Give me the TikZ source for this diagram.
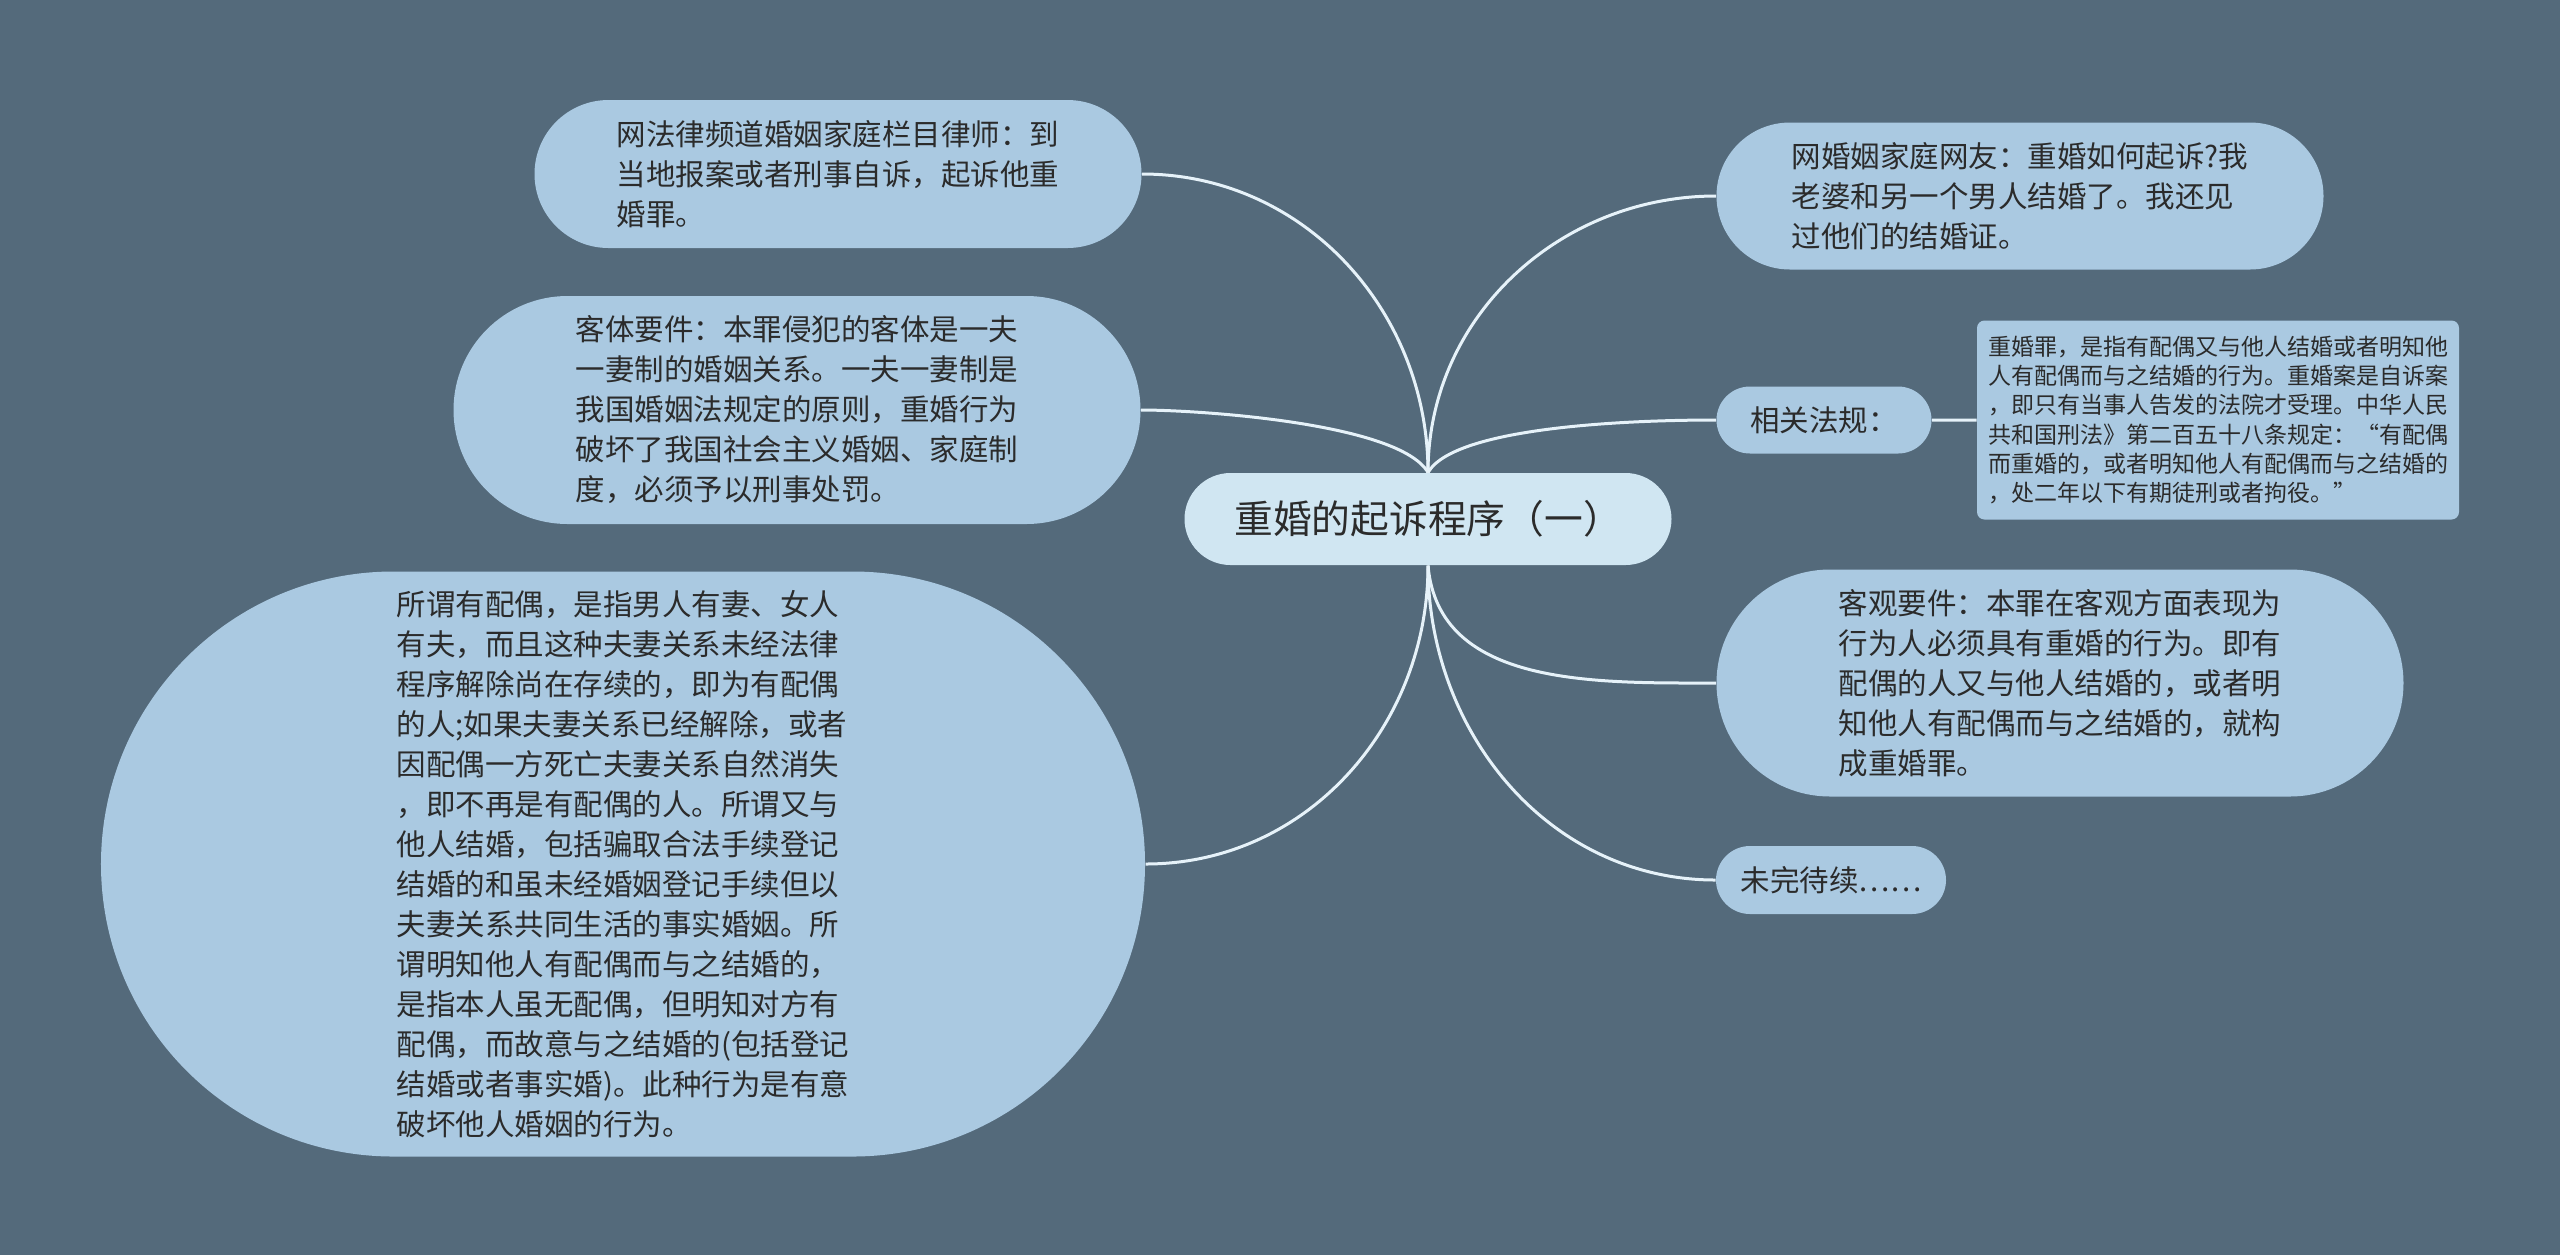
\documentclass[tikz,border=0pt]{standalone}
\usepackage{fontspec}
\setmainfont{Noto Sans CJK SC}
\usetikzlibrary{shapes.misc}

\definecolor{bg}{HTML}{546A7B}
\definecolor{leaf}{HTML}{AAC9E1}
\definecolor{rootc}{HTML}{D0E6F2}
\definecolor{wire}{HTML}{E6F2F9}
\definecolor{ink}{HTML}{2B2B2B}

\begin{document}
\begin{tikzpicture}[x=0.4pt,y=-0.4pt,
  box/.style={rounded rectangle,fill=leaf,text=ink,align=left,inner sep=0pt,
    font=\fontsize{11.8}{16}\selectfont},
  note/.style={rectangle,rounded corners=3pt,fill=leaf,text=ink,align=left,inner sep=3pt,
    font=\fontsize{9.2}{11.75}\selectfont},
  edge/.style={wire,line width=1.2pt}]
\fill [bg] (0,0) rectangle (2560,1255);
\useasboundingbox (0,0) rectangle (2560,1255);

\node [box,fill=rootc,minimum width=194.8pt,minimum height=36.8pt,
  font=\fontsize{15.5}{18}\selectfont] (root) at (1428,519) {重婚的起诉程序（一）};

% left side
\node [box,minimum width=242.8pt,minimum height=59.2pt] (lawyer) at (838,174)
  {网法律频道婚姻家庭栏目律师：到\\当地报案或者刑事自诉，起诉他重\\婚罪。};
\node [box,minimum width=274.8pt,minimum height=91.2pt] (object) at (797,410)
  {客体要件：本罪侵犯的客体是一夫\\一妻制的婚姻关系。一夫一妻制是\\我国婚姻法规定的原则，重婚行为\\破坏了我国社会主义婚姻、家庭制\\度，必须予以刑事处罚。};
\node [box,minimum width=417.6pt,minimum height=234pt] (spouse) at (623,864)
  {所谓有配偶，是指男人有妻、女人\\有夫，而且这种夫妻关系未经法律\\程序解除尚在存续的，即为有配偶\\的人;如果夫妻关系已经解除，或者\\因配偶一方死亡夫妻关系自然消失\\，即不再是有配偶的人。所谓又与\\他人结婚，包括骗取合法手续登记\\结婚的和虽未经婚姻登记手续但以\\夫妻关系共同生活的事实婚姻。所\\谓明知他人有配偶而与之结婚的，\\是指本人虽无配偶，但明知对方有\\配偶，而故意与之结婚的(包括登记\\结婚或者事实婚)。此种行为是有意\\破坏他人婚姻的行为。};

% right side
\node [box,minimum width=242.8pt,minimum height=58.8pt] (netizen) at (2020,196)
  {网婚姻家庭网友：重婚如何起诉?我\\老婆和另一个男人结婚了。我还见\\过他们的结婚证。};
\node [box,minimum width=86pt,minimum height=26.8pt] (law) at (1824,420) {相关法规：};
\node [note,minimum width=192.8pt,minimum height=79.6pt] (lawtext) at (2218,420)
  {重婚罪，是指有配偶又与他人结婚或者明知他\\人有配偶而与之结婚的行为。重婚案是自诉案\\，即只有当事人告发的法院才受理。中华人民\\共和国刑法》第二百五十八条规定：“有配偶\\而重婚的，或者明知他人有配偶而与之结婚的\\，处二年以下有期徒刑或者拘役。”};
\node [box,minimum width=274.8pt,minimum height=90.8pt] (subj) at (2060,683)
  {客观要件：本罪在客观方面表现为\\行为人必须具有重婚的行为。即有\\配偶的人又与他人结婚的，或者明\\知他人有配偶而与之结婚的，就构\\成重婚罪。};
\node [box,minimum width=92pt,minimum height=27.2pt] (tbc) at (1831,880) {未完待续……};

% connectors
\draw [edge] (root.north) to[out=90,in=0] (lawyer.east);
\draw [edge] (root.north) to[out=120,in=0,looseness=0.5] (object.east);
\draw [edge] (root.south) to[out=-90,in=0] (spouse.east);
\draw [edge] (root.north) to[out=90,in=180] (netizen.west);
\draw [edge] (root.north) to[out=60,in=180,looseness=0.5] (law.west);
\draw [edge] (root.south) to[out=-85,in=180] (subj.west);
\draw [edge] (root.south) to[out=-90,in=180] (tbc.west);
\draw [edge] (law) -- (lawtext);
\end{tikzpicture}
\end{document}
